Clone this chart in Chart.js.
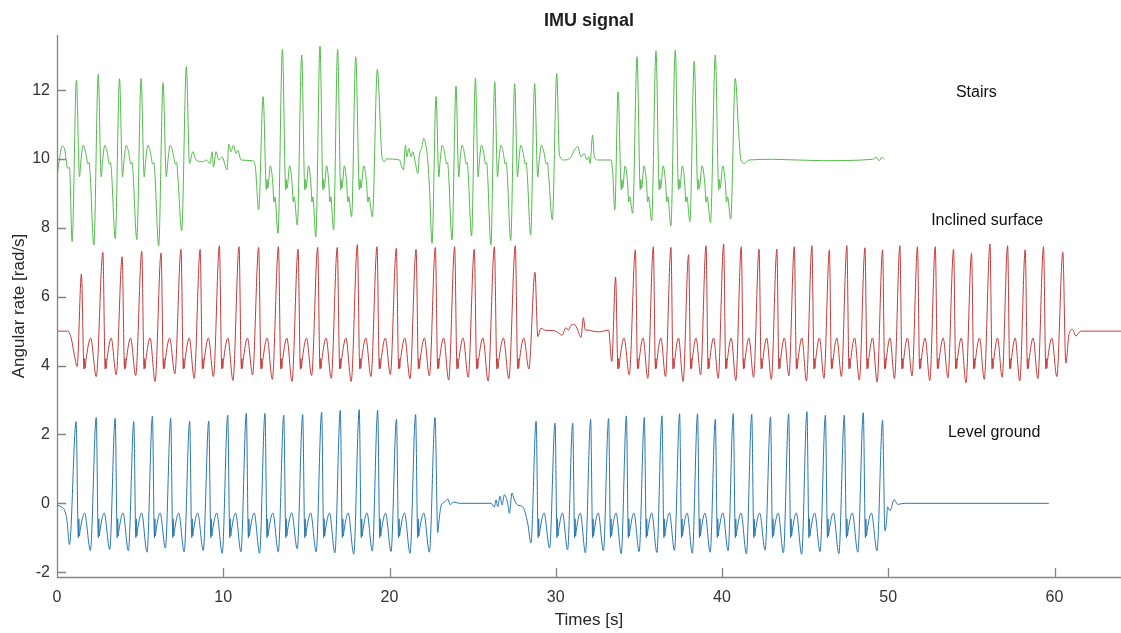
<!DOCTYPE html>
<html>
<head>
<meta charset="utf-8">
<title>IMU signal</title>
<script src="https://cdn.jsdelivr.net/npm/chart.js@4.4.1/dist/chart.umd.min.js"></script>
<style>
  html, body { margin: 0; padding: 0; background: #fff; }
  #wrap { width: 1121px; height: 633px; }
</style>
</head>
<body>
<div id="wrap"><canvas id="chart"></canvas></div>
<script>
// values: time in s, angular rate in rad/s
const xTicks = [0, 10, 20, 30, 40, 50, 60];
const yTicks = [-2, 0, 2, 4, 6, 8, 10, 12];
const activityNames = ['Stairs', 'Inclined surface', 'Level ground'];

// Level ground: swing peaks, the deep trough just before each peak, and the still parts
const levelPeakT = [1.15, 2.36, 3.50, 4.62, 5.74, 6.84, 7.98, 9.13, 10.27, 11.39, 12.51, 13.64, 14.78, 15.92, 17.04, 18.18, 19.29, 20.42, 21.57, 22.74,
  28.82, 29.96, 31.02, 32.10, 33.18, 34.25, 35.33, 36.39, 37.45, 38.53, 39.60, 40.68, 41.79, 42.92, 44.01, 45.11, 46.22, 47.36, 48.50, 49.66];
const levelPeakV = [2.37, 2.49, 2.47, 2.37, 2.53, 2.47, 2.39, 2.39, 2.56, 2.62, 2.61, 2.56, 2.58, 2.65, 2.70, 2.72, 2.70, 2.44, 2.58, 2.49,
  2.39, 2.33, 2.33, 2.44, 2.46, 2.54, 2.49, 2.54, 2.60, 2.60, 2.44, 2.60, 2.58, 2.51, 2.60, 2.66, 2.56, 2.56, 2.63, 2.41];
const levelTroughV = [null, -1.37, -1.34, -1.38, -1.42, -1.30, -1.41, -1.37, -1.45, -1.41, -1.45, -1.41, -1.32, -1.41, -1.44, -1.48, -1.39, -1.40, -1.45, -1.42,
  null, -1.30, -1.35, -1.44, -1.38, -1.46, -1.40, -1.43, -1.37, -1.45, -1.42, -1.38, -1.47, -1.36, -1.44, -1.48, -1.40, -1.46, -1.42, -1.38];
// gait cycle landmarks: [fraction of the step, value], 'T' = trough
const levelCycle = [[0.11, -1.0], [0.135, -0.45], [0.16, -0.95], [0.2, -0.78], [0.42, -0.28], [0.71, 'T']];
const levelRest = [[0, -0.05], [0.25, -0.1], [0.45, -0.2], [0.6, -0.5], [0.75, -1.2],
  [22.9, -0.85], [23.0, -0.4], [23.12, -0.05], [23.3, 0.03], [23.5, 0.12], [23.66, -0.04], [23.84, 0.04], [24.2, 0], [26.11, 0],
  [26.31, -0.11], [26.41, 0.1], [26.51, -0.1], [26.65, 0.21], [26.77, -0.05], [26.91, 0.25], [27.11, 0], [27.21, -0.29], [27.37, 0.3],
  [27.51, 0.1], [27.71, -0.05], [28.01, -0.1], [28.31, -0.57], [28.51, -1.15],
  [49.8, -0.8], [49.9, -0.5], [49.96, -0.1], [50.1, -0.22], [50.36, 0.11], [50.56, -0.03], [51.0, 0], [59.66, 0]];

// Inclined surface
const inclinedPeakT = [1.47, 2.76, 3.92, 5.10, 6.26, 7.46, 8.61, 9.77, 10.95, 12.13, 13.32, 14.50, 15.68, 16.86, 18.07, 19.25, 20.41, 21.60, 22.76, 23.92, 25.10, 26.31, 27.57, 28.75,
  33.60, 34.79, 35.87, 36.93, 37.99, 39.04, 40.10, 41.16, 42.23, 43.30, 44.35, 45.41, 46.46, 47.51, 48.60, 49.66, 50.70, 51.76, 52.83, 53.93, 55.01, 56.12, 57.18, 58.24, 59.34, 60.50];
const inclinedPeakV = [6.66, 7.29, 7.16, 7.32, 7.27, 7.38, 7.37, 7.48, 7.45, 7.43, 7.45, 7.38, 7.43, 7.43, 7.51, 7.45, 7.40, 7.38, 7.43, 7.45, 7.38, 7.45, 7.48, 6.71,
  6.57, 7.36, 7.45, 7.43, 7.22, 7.48, 7.53, 7.45, 7.38, 7.38, 7.45, 7.48, 7.36, 7.48, 7.42, 7.36, 7.48, 7.45, 7.45, 7.38, 7.26, 7.53, 7.48, 7.36, 7.45, 7.29];
const inclinedTroughV = [null, 3.68, 3.73, 3.71, 3.54, 3.76, 3.63, 3.68, 3.57, 3.73, 3.60, 3.54, 3.71, 3.63, 3.54, 3.68, 3.74, 3.62, 3.70, 3.58, 3.66, 3.55, 3.62, 3.90,
  null, 3.73, 3.63, 3.68, 3.54, 3.73, 3.63, 3.57, 3.66, 3.60, 3.70, 3.55, 3.63, 3.68, 3.58, 3.52, 3.62, 3.70, 3.57, 3.64, 3.50, 3.60, 3.66, 3.55, 3.62, 3.68];
const inclinedCycle = [[0.12, 3.9], [0.145, 4.2], [0.17, 3.92], [0.21, 4.15], [0.43, 4.8], [0.69, 'T']];
const inclinedRest = [[0, 5], [0.65, 5], [0.85, 4.8], [1.05, 4.3], [1.21, 3.97],
  [28.92, 4.84], [29.11, 5.08], [29.41, 5.02], [29.82, 5.02], [30.22, 4.93], [30.37, 4.88], [30.62, 5.1], [30.76, 5.03], [30.92, 5.17],
  [31.12, 5.2], [31.32, 5.03], [31.52, 4.82], [31.66, 5.39], [31.78, 5.03], [31.98, 5.03], [32.22, 5.0], [32.62, 4.98], [33.18, 5.03], [33.37, 4.12],
  [60.68, 4.07], [60.88, 4.93], [61.08, 5.05], [61.28, 4.86], [61.58, 5.0], [64, 5.0]];

// Stairs: two kinds of bouts (A: 1st and 3rd, B: 2nd and 4th)
const stairsAPeakT = [1.17, 2.48, 3.76, 5.06, 6.38, 7.78, 22.80, 24.00, 25.17, 26.33, 27.53, 28.73, 30.06];
const stairsAPeakV = [12.29, 12.46, 12.33, 12.34, 12.21, 12.68, 11.81, 12.12, 12.34, 12.24, 12.19, 12.19, 12.48];
const stairsATroughV = [null, 7.50, 7.69, 7.66, 7.47, 7.91, null, 7.65, 7.76, 7.50, 7.63, 7.79, 8.23];
const stairsACycle = [[0.14, 9.48], [0.2, 9.9], [0.31, 10.4], [0.42, 10.2], [0.53, 9.85], [0.58, 9.9], [0.63, 9.55], [0.8, 'T']];
const stairsBPeakT = [12.40, 13.56, 14.72, 15.82, 16.88, 17.97, 19.27, 33.75, 34.89, 36.03, 37.19, 38.33, 39.60, 40.80];
const stairsBPeakV = [11.81, 13.18, 13.02, 13.28, 13.18, 12.97, 12.60, 11.95, 12.97, 13.14, 13.16, 12.84, 13.02, 12.34];
const stairsBTroughV = [null, 7.84, 8.08, 7.74, 7.94, 8.32, 8.32, null, 8.42, 8.20, 8.05, 8.18, 8.15, 8.25];
const stairsBCycle = [[0.17, 9.1], [0.2, 9.4], [0.24, 9.15], [0.37, 9.8], [0.5, 9.3], [0.56, 8.75], [0.61, 8.9], [0.77, 'T']];
const stairsRest = [[0, 9.48], [0.15, 10.0], [0.31, 10.38], [0.45, 10.3], [0.65, 9.73], [0.75, 9.75], [0.91, 7.6],
  [7.97, 9.87], [8.17, 10.21], [8.37, 9.97], [8.77, 9.92], [8.97, 9.97], [9.21, 9.87], [9.33, 10.21], [9.41, 9.77], [9.57, 10.21],
  [9.73, 9.97], [9.93, 10.06], [10.23, 9.68], [10.33, 10.43], [10.47, 10.21], [10.61, 10.4], [10.77, 10.16], [10.87, 10.26],
  [11.07, 9.97], [11.77, 9.95], [11.93, 9.77], [12.13, 8.52],
  [19.55, 10.06], [19.7, 9.92], [19.8, 10.0], [20.6, 9.97], [20.7, 9.82], [20.84, 9.68], [20.96, 10.4], [21.04, 10.06], [21.16, 10.31],
  [21.3, 10.06], [21.4, 10.21], [21.56, 9.87], [21.7, 9.58], [21.8, 10.11], [21.96, 10.36], [22.06, 10.6], [22.2, 10.36], [22.3, 9.97],
  [22.4, 9.19], [22.56, 7.55],
  [30.22, 10.11], [30.52, 9.97], [30.92, 10.06], [31.12, 10.26], [31.32, 10.36], [31.52, 10.06], [31.72, 10.16], [31.86, 9.97],
  [31.98, 10.06], [32.06, 9.87], [32.22, 10.69], [32.32, 10.06], [32.52, 9.97], [33.33, 9.97], [33.43, 9.58], [33.55, 8.52],
  [41.0, 10.79], [41.14, 9.97], [41.34, 9.87], [41.64, 9.97], [43.04, 9.99], [46.05, 9.95], [49.06, 9.99], [49.26, 10.05],
  [49.46, 9.95], [49.62, 10.05], [49.76, 9.99]];

// peaks plus the landmarks of each step up to the next peak of the same bout
function steps(peakT, peakV, troughV, cycle) {
  const pts = [];
  peakT.forEach((t, i) => {
    pts.push({ x: t, y: peakV[i] });
    const next = peakT[i + 1];
    if (next === undefined || next - t > 1.6) return;
    cycle.forEach(([f, v]) => pts.push({ x: t + f * (next - t), y: v === 'T' ? troughV[i + 1] : v }));
  });
  return pts;
}
function signal(rest, ...parts) {
  return rest.map(([x, y]) => ({ x, y })).concat(...parts).sort((a, b) => a.x - b.x);
}

const stairs = signal(stairsRest, steps(stairsAPeakT, stairsAPeakV, stairsATroughV, stairsACycle),
  steps(stairsBPeakT, stairsBPeakV, stairsBTroughV, stairsBCycle));
const inclined = signal(inclinedRest, steps(inclinedPeakT, inclinedPeakV, inclinedTroughV, inclinedCycle));
const level = signal(levelRest, steps(levelPeakT, levelPeakV, levelTroughV, levelCycle));

const FONT = '"Liberation Sans", Arial, Helvetica, sans-serif';
const labelAnchors = [[55.3, 11.94], [55.95, 8.2], [56.37, 2.04]];

const axesAndText = {
  id: 'axesAndText',
  afterDraw(chart) {
    const { ctx, chartArea: a, scales: { x, y } } = chart;
    ctx.save();
    ctx.strokeStyle = '#858585';
    ctx.lineWidth = 1.3;
    ctx.beginPath();
    ctx.moveTo(a.left + 0.5, a.top);
    ctx.lineTo(a.left + 0.5, a.bottom + 0.5);
    ctx.lineTo(a.right, a.bottom + 0.5);
    xTicks.forEach(v => {
      const px = Math.round(x.getPixelForValue(v)) + 0.5;
      ctx.moveTo(px, a.bottom);
      ctx.lineTo(px, a.bottom - 9);
    });
    yTicks.forEach(v => {
      const py = Math.round(y.getPixelForValue(v)) + 0.5;
      ctx.moveTo(a.left, py);
      ctx.lineTo(a.left + 9, py);
    });
    ctx.stroke();

    ctx.fillStyle = '#1e1e1e';
    ctx.textAlign = 'center';
    ctx.textBaseline = 'middle';
    ctx.font = 'bold 18px ' + FONT;
    ctx.fillText('IMU signal', (a.left + a.right) / 2, 21);
    ctx.fillStyle = '#262626';
    ctx.font = '17px ' + FONT;
    ctx.fillText('Times [s]', (a.left + a.right) / 2, 620);
    ctx.save();
    ctx.translate(19, (a.top + a.bottom) / 2);
    ctx.rotate(-Math.PI / 2);
    ctx.fillText('Angular rate [rad/s]', 0, 0);
    ctx.restore();

    ctx.fillStyle = '#111';
    ctx.font = '16px ' + FONT;
    activityNames.forEach((name, i) => {
      ctx.fillText(name, x.getPixelForValue(labelAnchors[i][0]), y.getPixelForValue(labelAnchors[i][1]));
    });
    ctx.restore();
  }
};

const lineStyle = { borderWidth: 1, pointRadius: 0, fill: false, cubicInterpolationMode: 'monotone' };

new Chart(document.getElementById('chart'), {
  type: 'line',
  data: {
    datasets: [
      { label: 'Stairs', data: stairs, borderColor: '#52ba4a', ...lineStyle },
      { label: 'Inclined surface', data: inclined, borderColor: '#c23a3a', ...lineStyle },
      { label: 'Level ground', data: level, borderColor: '#2777ad', ...lineStyle }
    ]
  },
  options: {
    responsive: true,
    maintainAspectRatio: false,
    animation: false,
    parsing: false,
    layout: { padding: { top: 35, left: 0, right: 0, bottom: 0 } },
    plugins: { legend: { display: false }, tooltip: { enabled: false }, title: { display: false } },
    scales: {
      x: {
        type: 'linear', min: 0, max: 64,
        grid: { display: false, drawTicks: false },
        border: { display: false },
        ticks: { autoSkip: false, maxRotation: 0, padding: 11, color: '#333', font: { family: FONT, size: 16 } },
        afterBuildTicks: s => { s.ticks = xTicks.map(v => ({ value: v })); },
        afterFit: s => { s.height = 56; }
      },
      y: {
        type: 'linear', min: -2.14, max: 13.6,
        grid: { display: false, drawTicks: false },
        border: { display: false },
        ticks: { autoSkip: false, padding: 7, color: '#333', font: { family: FONT, size: 16 } },
        afterBuildTicks: s => { s.ticks = yTicks.map(v => ({ value: v })); },
        afterFit: s => { s.width = 57; }
      }
    }
  },
  plugins: [axesAndText]
});
</script>
</body>
</html>
